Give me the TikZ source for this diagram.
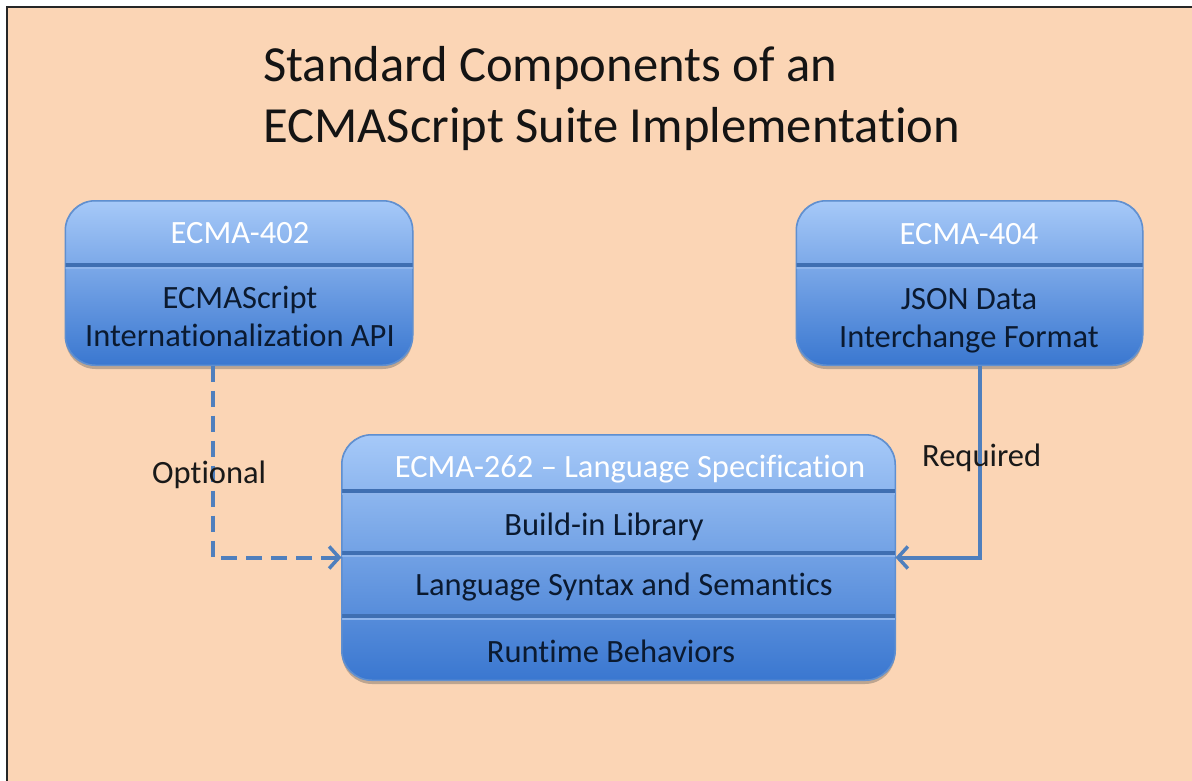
\documentclass[tikz,border=0pt]{standalone}
\usepackage{fontspec}
\setmainfont{Carlito}[Ligatures={TeX,NoCommon}]
\usetikzlibrary{arrows.meta,shadows}
\definecolor{peach}{HTML}{FBD5B5}
\definecolor{boxtop}{HTML}{A6C9F8}
\definecolor{boxbot}{HTML}{3A77D0}
\definecolor{boxedge}{HTML}{5F8FD0}
\definecolor{divline}{HTML}{3F6FB2}
\definecolor{divlight}{HTML}{8FB5EC}
\definecolor{conncol}{HTML}{4F7FBD}
\definecolor{navytext}{HTML}{0B1A30}
\tikzset{
  bluebox/.style={draw=boxedge, line width=1pt, top color=boxtop, bottom color=boxbot,
    rounded corners=30pt, inner sep=0pt,
    drop shadow={shadow xshift=0pt, shadow yshift=-4pt, opacity=0.35, fill=black!70}},
  divider/.style={draw=divline, line width=4pt},
  dividerhi/.style={draw=divlight, line width=1.2pt},
  headtxt/.style={text=white, font=\fontsize{32.5}{36}\selectfont, inner sep=0pt, anchor=base},
  bodytxt/.style={text=navytext, font=\fontsize{32.5}{36}\selectfont, inner sep=0pt, anchor=base},
  labeltxt/.style={text=black!90, font=\fontsize{32.5}{36}\selectfont, inner sep=0pt, anchor=base west},
  titletxt/.style={text=black!92, font=\fontsize{50.6}{58}\selectfont, inner sep=0pt, anchor=base west},
  conn/.style={draw=conncol, line width=4pt, -{Straight Barb[length=10pt,width=22pt,line width=3.5pt]}},
}
\begin{document}
\begin{tikzpicture}[x=1pt,y=-1pt]
\useasboundingbox (0,0) rectangle (1192,781);
\fill[white] (0,0) rectangle (1192,781);
\fill[peach] (8,8) rectangle (1192,781);
\draw[black!85, line width=2pt] (7,781) -- (7,7) -- (1192,7);

% title
\node[titletxt] (t1) at (263,82) {Standard Components of an};
\node[titletxt] (t2) at (263,143) {ECMAScript Suite Implementation};

% boxes
\node[bluebox, minimum width=347pt, minimum height=164pt] (b402) at (239,283) {};
\node[bluebox, minimum width=346pt, minimum height=164pt] (b404) at (969.5,283) {};
\node[bluebox, minimum width=553pt, minimum height=245pt] (b262) at (618.5,557.5) {};

% dividers
\draw[divider] (b402.west |- 0,265) -- (b402.east |- 0,265);
\draw[dividerhi] (b402.west |- 0,268) -- (b402.east |- 0,268);
\draw[divider] (b404.west |- 0,265) -- (b404.east |- 0,265);
\draw[dividerhi] (b404.west |- 0,268) -- (b404.east |- 0,268);
\foreach \yy in {491,553,616}{
  \draw[divider] (b262.west |- 0,\yy) -- (b262.east |- 0,\yy);
  \draw[dividerhi] (b262.west |- 0,\yy+3) -- (b262.east |- 0,\yy+3);
}
\draw[draw=boxedge, line width=1pt, rounded corners=30pt] (b402.north west) rectangle (b402.south east);
\draw[draw=boxedge, line width=1pt, rounded corners=30pt] (b404.north west) rectangle (b404.south east);
\draw[draw=boxedge, line width=1pt, rounded corners=30pt] (b262.north west) rectangle (b262.south east);

% texts
\node[headtxt] (h402) at (240,243) {ECMA-402};
\node[bodytxt] (l402a) at (240,308) {ECMAScript};
\node[bodytxt] (l402b) at (240,346) {Internationalization API};
\node[headtxt] (h404) at (969,244) {ECMA-404};
\node[bodytxt] (l404a) at (969,309) {JSON Data};
\node[bodytxt] (l404b) at (969,347) {Interchange Format};
\node[headtxt] (h262) at (630,477) {ECMA-262 – Language Specification};
\node[bodytxt] (r1) at (604,535) {Build-in Library};
\node[bodytxt] (r2) at (624,595) {Language Syntax and Semantics};
\node[bodytxt] (r3) at (611,662) {Runtime Behaviors};

% connectors
\draw[conn, dash pattern=on 16pt off 9pt] ([xshift=-26pt]b402.south) |- (b262.west);
\draw[conn] ([xshift=10.5pt]b404.south) |- (b262.east);

\node[labeltxt] (opt) at (152,483) {Optional};
\node[labeltxt] (req) at (922,466) {Required};
\end{tikzpicture}
\end{document}
